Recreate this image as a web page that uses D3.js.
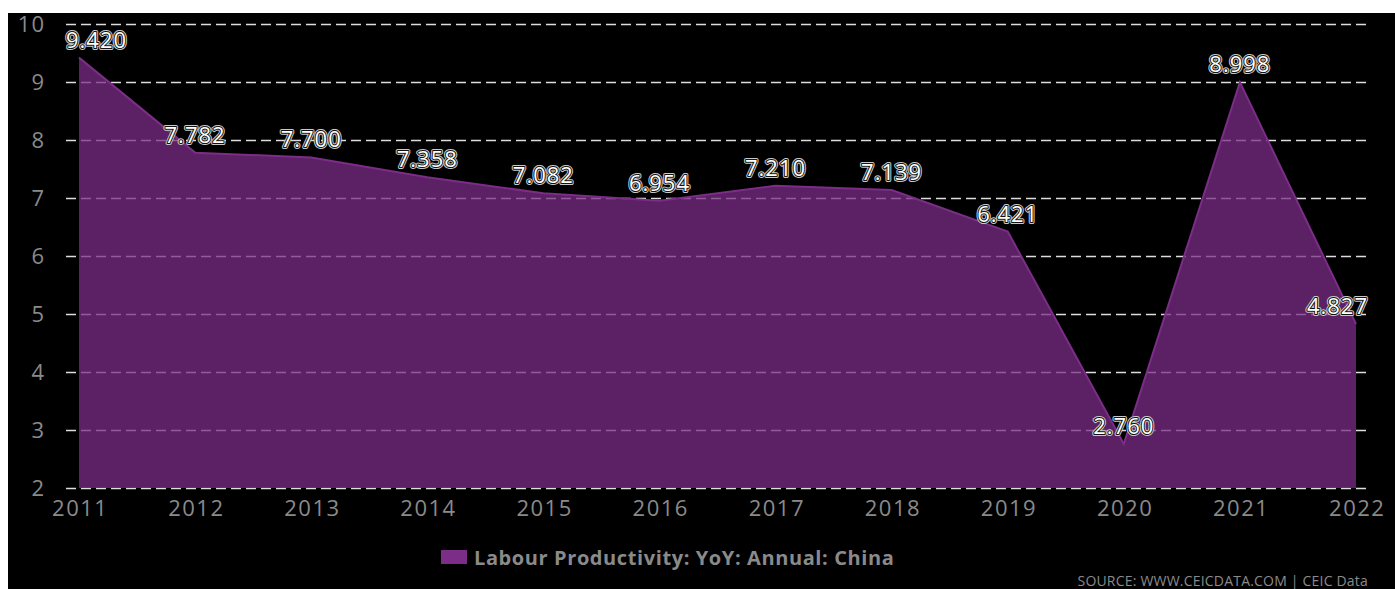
<!DOCTYPE html>
<html>
<head>
<meta charset="utf-8">
<script src="https://cdn.jsdelivr.net/npm/d3@7"></script>
<style>
  html, body { margin: 0; padding: 0; background: #fff; }
  svg { display: block; }
</style>
</head>
<body>
<svg id="chart" width="1395" height="589"></svg>
<script>
// Labour productivity, year-on-year growth (%), China
const years = [2011, 2012, 2013, 2014, 2015, 2016, 2017, 2018, 2019, 2020, 2021, 2022];
const values = [9.420, 7.782, 7.700, 7.358, 7.082, 6.954, 7.210, 7.139, 6.421, 2.760, 8.998, 4.827];
const yTicks = [2, 3, 4, 5, 6, 7, 8, 9, 10];
const seriesName = "Labour Productivity: YoY: Annual: China";
const sourceText = "SOURCE: WWW.CEICDATA.COM | CEIC Data";

const svg = d3.select("#chart");
const W = 1395, H = 589;
const font = "'Open Sans', sans-serif";
const purple = "#7b2d87";
const grey = "#8a8a8a";

// Panel background
svg.append("rect").attr("x", 8).attr("y", 13).attr("width", W - 8).attr("height", H - 13).attr("fill", "#000");

const x = d3.scaleLinear().domain([2011, 2022]).range([79, 1356]);
const y = d3.scaleLinear().domain([2, 10]).range([488, 24]);
const gridLeft = 66, gridRight = 1368;

// Horizontal dashed gridlines (drawn beneath the translucent area)
const yAxis = d3.axisLeft(y).tickValues(yTicks).tickSize(-(gridRight - gridLeft)).tickPadding(21).tickFormat(d3.format("d"));
const gy = svg.append("g").attr("transform", `translate(${gridLeft},0)`).call(yAxis);
gy.select(".domain").remove();
gy.selectAll(".tick line").attr("stroke", "#ddd").attr("stroke-width", 1.3).attr("stroke-dasharray", "10,5");
gy.selectAll(".tick text").attr("fill", grey).style("font-family", font).style("font-size", "22px").style("letter-spacing", "1px");

// Area series
const area = d3.area().x((d, i) => x(years[i])).y0(y(2)).y1(d => y(d));
const line = d3.line().x((d, i) => x(years[i])).y(d => y(d));
svg.append("path").datum(values).attr("d", area).attr("fill", purple).attr("fill-opacity", 0.74);
svg.append("path").datum(values).attr("d", line).attr("fill", "none").attr("stroke", purple).attr("stroke-width", 2);

// Year labels
const xAxis = d3.axisBottom(x).tickValues(years).tickSize(0).tickPadding(12).tickFormat(d3.format("d"));
const gx = svg.append("g").attr("transform", `translate(0,${y(2)})`).call(xAxis);
gx.select(".domain").remove();
gx.selectAll(".tick text").attr("fill", grey).style("font-family", font).style("font-size", "22px")
  .style("letter-spacing", "1.5px").attr("dx", "0.75px");

// Value labels
const labels = svg.append("g").style("font-family", font).style("font-size", "22px").style("letter-spacing", "1px");
values.forEach((v, i) => {
  const t = d3.format(".3f")(v);
  const g = labels.append("g");
  const make = () => g.append("text").attr("y", y(v) - 10).attr("text-anchor", "middle").text(t);
  make().attr("fill", "none").attr("stroke", "#c8c8c8").attr("stroke-width", 4).attr("stroke-linejoin", "round");
  make().attr("fill", "none").attr("stroke", "#111").attr("stroke-width", 2).attr("stroke-linejoin", "round");
  const top = make().attr("fill", "#fff");
  const w = top.node().getComputedTextLength();
  let cx = x(years[i]);
  cx = Math.max(gridLeft + w / 2, Math.min(gridRight - w / 2, cx));
  g.selectAll("text").attr("x", cx);
});

// Legend
const lg = svg.append("g");
lg.append("rect").attr("x", 441).attr("y", 550).attr("width", 26).attr("height", 14).attr("fill", purple);
lg.append("text").attr("x", 474).attr("y", 565).text(seriesName)
  .attr("fill", grey).style("font-family", font).style("font-weight", "bold").style("font-size", "20px")
  .style("letter-spacing", "0.6px");

// Source line
svg.append("text").attr("x", 1368).attr("y", 586).attr("text-anchor", "end").text(sourceText)
  .attr("fill", grey).style("font-family", font).style("font-size", "14px").style("letter-spacing", "0.2px");
</script>
</body>
</html>
